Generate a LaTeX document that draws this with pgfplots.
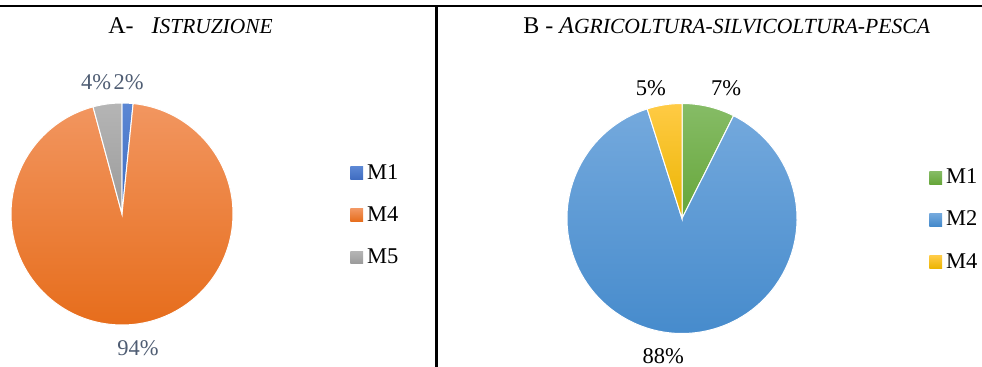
\documentclass[border=0pt]{standalone}
\usepackage{pgfplots}
\pgfplotsset{compat=1.18}
\usepackage{pgfplotstable}
\usepackage{fontspec}
\setmainfont{Liberation Serif}

% slice colours (top / bottom of the gradient), by slice index
\definecolor{A0t}{HTML}{5B87D4}
\definecolor{A0b}{HTML}{3F6CC0}
\definecolor{A1t}{HTML}{F29660}
\definecolor{A1b}{HTML}{E66C1A}
\definecolor{A2t}{HTML}{B5B5B5}
\definecolor{A2b}{HTML}{9A9A9A}
\definecolor{B0t}{HTML}{86BC66}
\definecolor{B0b}{HTML}{66A63A}
\definecolor{B1t}{HTML}{74A9DD}
\definecolor{B1b}{HTML}{4389CB}
\definecolor{B2t}{HTML}{FFCB45}
\definecolor{B2b}{HTML}{EBB400}
\definecolor{slate}{HTML}{4F5D73}

\newcommand\pielabfont{\fontsize{11.25}{13}\selectfont}

% start = cumulative %, val = slice %, da/lr = label angle nudge and radius (pt)
\pgfplotstableread{
x y start val da lr
0 0 0 1.6 0 66
0 0 1.6 94.2 2.1 67.5
0 0 95.8 4.2 3.5 67.3
}\istruzione

\pgfplotstableread{
x y start val da lr
0 0 0 7.4 -5.3 68.9
0 0 7.4 87.7 -3.3 69.5
0 0 95.1 4.9 4.6 67
}\agricoltura

\pgfplotsset{
  pie slices/.style n args={3}{
    forget plot, scatter, only marks, mark=*, mark size=0pt,
    point meta=\coordindex,
    visualization depends on={\coordindex\as\pidx},
    visualization depends on={\thisrow{start}\as\pstart},
    visualization depends on={\thisrow{val}\as\pval},
    visualization depends on={\thisrow{da}\as\pda},
    visualization depends on={\thisrow{lr}\as\plr},
    scatter/@pre marker code/.code={%
      \begingroup
      \pgfkeys{/pgf/fpu=false}%
      \pgfmathtruncatemacro\ii{\pidx}%
      \pgfmathsetmacro\aS{90-3.6*\pstart}%
      \pgfmathsetmacro\aE{90-3.6*(\pstart+\pval)}%
      \pgfmathsetmacro\aM{(\aS+\aE)/2+\pda}%
      \shade[top color=#2\ii t, bottom color=#2\ii b, draw=white, line width=0.5pt]
        (0pt,0pt) -- (\aS:#1) arc[start angle=\aS, end angle=\aE, radius=#1] -- cycle;
      \node[inner sep=0pt, text=#3, font=\pielabfont] at (\aM:\plr pt)
        {\pgfmathprintnumber[fixed, precision=0, assume math mode=true]{\pval}\%};
      \endgroup
      \begingroup
    },
    scatter/@post marker code/.code={\endgroup},
  },
  pie axis/.style={
    scale only axis, hide axis, clip=false, anchor=center,
    xmin=-1, xmax=1, ymin=-1, ymax=1,
    legend cell align=left,
    legend image code/.code={\shade[##1, draw=none] (0pt,-3.2pt) rectangle (6.4pt,3.2pt);},
    legend style={anchor=north west, draw=none, fill=none, inner sep=0pt,
      row sep=10.2pt, column sep=1pt, font=\pielabfont, nodes={inner sep=1pt}},
  },
}

\begin{document}
\begin{tikzpicture}
\useasboundingbox (0pt,0pt) rectangle (491pt,-183.5pt);

% table borders
\draw[line width=1.2pt] (0pt,-3pt) -- (491pt,-3pt);
\draw[line width=1.2pt] (218.25pt,-3pt) -- (218.25pt,-183.5pt);

% titles
\node[anchor=base west, inner sep=0pt, font=\fontsize{12}{14}\selectfont] at (54pt,-16.6pt)
  {A-\hspace{9pt}\textit{I{\fontsize{10.7}{12}\selectfont STRUZIONE}}};
\node[anchor=base west, inner sep=0pt, font=\fontsize{12}{14}\selectfont] at (261.5pt,-16.6pt)
  {B - \textit{A{\fontsize{10.8}{12}\selectfont GRICOLTURA-SILVICOLTURA-PESCA}}};

\begin{axis}[pie axis, at={(61pt,-107pt)}, width=111pt, height=111pt,
  legend style={at={(1.527,0.735)}}]
\addplot[pie slices={55.5pt}{A}{slate}] table[x=x, y=y] {\istruzione};
\addlegendimage{top color=A0t, bottom color=A0b}
\addlegendentry{M1}
\addlegendimage{top color=A1t, bottom color=A1b}
\addlegendentry{M4}
\addlegendimage{top color=A2t, bottom color=A2b}
\addlegendentry{M5}
\end{axis}

\begin{axis}[pie axis, at={(341pt,-109.25pt)}, width=115pt, height=115pt,
  legend style={at={(1.574,0.727)}}]
\addplot[pie slices={57.5pt}{B}{black}] table[x=x, y=y] {\agricoltura};
\addlegendimage{top color=B0t, bottom color=B0b}
\addlegendentry{M1}
\addlegendimage{top color=B1t, bottom color=B1b}
\addlegendentry{M2}
\addlegendimage{top color=B2t, bottom color=B2b}
\addlegendentry{M4}
\end{axis}
\end{tikzpicture}
\end{document}
